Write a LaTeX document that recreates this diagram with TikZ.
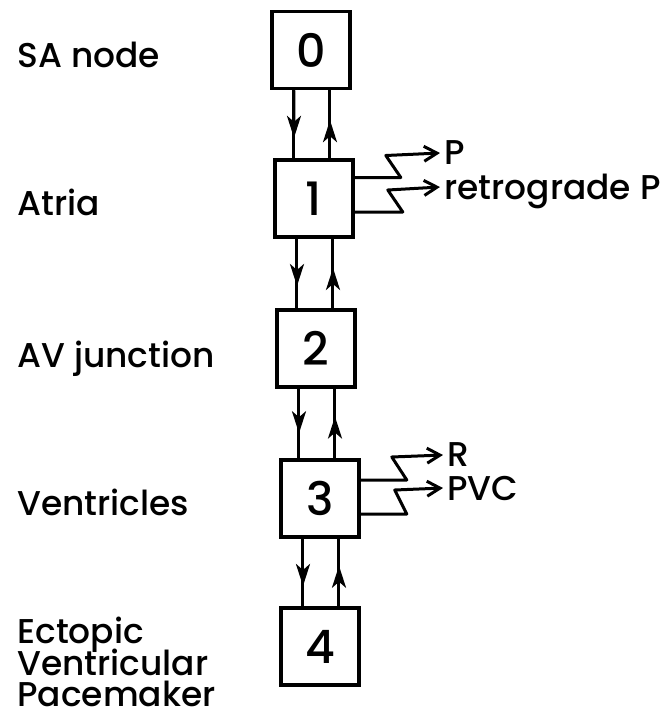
\documentclass[tikz,border=0pt]{standalone}
\usepackage{fontspec}
\setmainfont{Poppins Medium}
\usetikzlibrary{arrows.meta, calc}
\newcommand\lblfont{\fontsize{17.2}{15.75}\selectfont\lineskiplimit=-6pt\relax}
\tikzset{
    x=0.5pt, y=-0.5pt, % one unit per pixel of the drawing
    blk/.style={draw, line width=1.8pt, minimum width=39pt, minimum height=38.5pt, inner sep=0pt, font=\fontsize{23}{26}\selectfont}, % numbered boxes
    lbl/.style={inner sep=0pt, font=\lblfont}, % names on the left
    outlbl/.style={inner sep=2pt, anchor=west, text depth=0pt, font=\fontsize{17.2}{18}\selectfont}, % output waves
    wire/.style={line width=1.5pt},
    tip/.style={wire, -{Stealth[length=11pt,width=7pt,inset=3pt]}}, % arrow half way along a link
    zz/.style={wire, line join=round, -{Straight Barb[length=6.5pt,width=7.5pt,line width=1.5pt]}}, % zig-zag outputs
}
\begin{document}
\begin{tikzpicture}
  \useasboundingbox (0,0) rectangle (670,720);

  \node[blk] (sa) at (311,50) {0};
  \node[blk] (atria) at (314,198.5) {1};
  \node[blk] (av) at (316,348.5) {2};
  \node[blk] (vent) at (320,498.5) {3};
  \node[blk] (ect) at (320,646.5) {4};

  \node[lbl, anchor=base west] (lsa) at (17,67) {SA node};
  \node[lbl, anchor=base west] (latria) at (17,215) {Atria};
  \node[lbl, anchor=base west] (lav) at (17,367) {AV junction};
  \node[lbl, anchor=base west] (lvent) at (17,515) {Ventricles};
  \node[lbl, anchor=north west, align=left] (lect) at (17,617) {Ectopic\\Ventricular\\Pacemaker};

  % conduction down and back up
  \draw[wire] ([xshift=-8.5pt]sa.south) -- ([xshift=-8.5pt]sa.south |- atria.north);
  \draw[tip] ([xshift=-8.5pt]sa.south) -- ([xshift=-8.5pt]$(sa.south)!0.7!(sa.south |- atria.north)$);
  \draw[wire] ([xshift=9.5pt]sa.south |- atria.north) -- ([xshift=9.5pt]sa.south);
  \draw[tip] ([xshift=9.5pt]sa.south |- atria.north) -- ([xshift=9.5pt]$(sa.south |- atria.north)!0.56!(sa.south)$);

  \draw[wire] ([xshift=-8.5pt]atria.south) -- ([xshift=-8.5pt]atria.south |- av.north);
  \draw[tip] ([xshift=-8.5pt]atria.south) -- ([xshift=-8.5pt]$(atria.south)!0.68!(atria.south |- av.north)$);
  \draw[wire] ([xshift=9.5pt]atria.south |- av.north) -- ([xshift=9.5pt]atria.south);
  \draw[tip] ([xshift=9.5pt]atria.south |- av.north) -- ([xshift=9.5pt]$(atria.south |- av.north)!0.58!(atria.south)$);

  \draw[wire] ([xshift=-8.5pt]av.south) -- ([xshift=-8.5pt]av.south |- vent.north);
  \draw[tip] ([xshift=-8.5pt]av.south) -- ([xshift=-8.5pt]$(av.south)!0.64!(av.south |- vent.north)$);
  \draw[wire] ([xshift=9.5pt]av.south |- vent.north) -- ([xshift=9.5pt]av.south);
  \draw[tip] ([xshift=9.5pt]av.south |- vent.north) -- ([xshift=9.5pt]$(av.south |- vent.north)!0.6!(av.south)$);

  \draw[wire] ([xshift=-8.5pt]vent.south) -- ([xshift=-8.5pt]vent.south |- ect.north);
  \draw[tip] ([xshift=-8.5pt]vent.south) -- ([xshift=-8.5pt]$(vent.south)!0.7!(vent.south |- ect.north)$);
  \draw[wire] ([xshift=9.5pt]vent.south |- ect.north) -- ([xshift=9.5pt]vent.south);
  \draw[tip] ([xshift=9.5pt]vent.south |- ect.north) -- ([xshift=9.5pt]$(vent.south |- ect.north)!0.6!(vent.south)$);

  % waves seen on the ECG
  \node[outlbl] (p) at (440,153) {P};
  \node[outlbl] (retro) at (440,187) {retrograde P};
  \node[outlbl] (r) at (443,455) {R};
  \node[outlbl] (pvc) at (443,488) {PVC};
  \draw[zz] ([yshift=10.5pt]atria.east) -- ++(23pt,0) -- ++(-7.5pt,11pt) -- (p.west);
  \draw[zz] ([yshift=-6.75pt]atria.east) -- ++(24pt,0) -- ++(-7.5pt,11pt) -- (retro.west);
  \draw[zz] ([yshift=9.25pt]vent.east) -- ++(23pt,0) -- ++(-7.5pt,11.5pt) -- (r.west);
  \draw[zz] ([yshift=-7.75pt]vent.east) -- ++(23pt,0) -- ++(-6pt,12pt) -- (pvc.west);
\end{tikzpicture}
\end{document}
